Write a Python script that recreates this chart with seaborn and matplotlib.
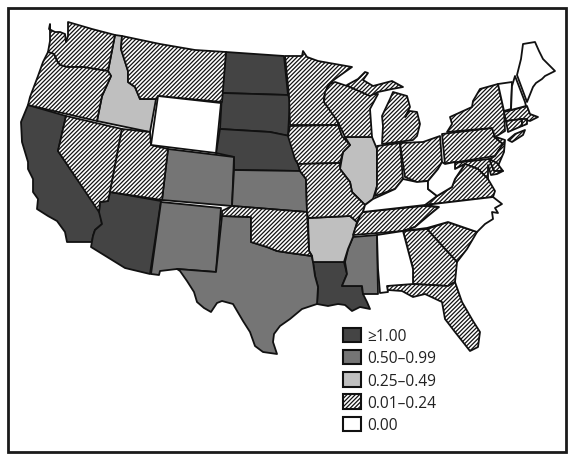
import matplotlib.pyplot as plt
from matplotlib.patches import Patch, Polygon, Rectangle
import seaborn as sns

WA = [(50,25),(49,30),(55,33),(60,33),(65,35),(66,43),(68,37),(68,30),(68,23),(92,30),(115,36),(108,72),(95,70),(83,68),(67,68),(60,66),(57,62),(54,55),(48,53),(50,42)]
OR = [(48,53),(54,55),(57,62),(60,66),(67,68),(83,68),(95,70),(108,72),(111,77),(102,97),(97,122),(28,106),(30,98),(38,77),(43,63)]
CA = [(28,106),(66,117),(58,152),(100,213),(102,225),(95,231),(93,237),(92,243),(67,243),(65,233),(57,222),(48,217),(37,210),(38,200),(33,193),(33,180),(28,170),(28,163),(22,143),(21,123)]
NV = [(66,117),(122,130),(110,193),(108,202),(100,203),(99,213),(58,152)]
ID = [(115,36),(122,37),(121,50),(128,72),(128,83),(135,88),(140,100),(156,100),(150,133),(97,122),(102,97),(111,77),(108,72)]
MT = [(122,37),(160,45),(195,51),(226,53),(222,103),(158,97),(156,100),(140,100),(135,88),(128,83),(128,72),(121,50)]
WY = [(158,97),(221,104),(216,154),(151,146)]
UT = [(122,130),(150,133),(151,146),(168,150),(162,201),(110,193)]
CO = [(168,150),(234,158),(232,207),(162,201)]
AZ = [(110,193),(161,202),(150,275),(125,269),(91,248),(93,237),(95,231),(102,225),(99,213),(100,203),(108,202)]
NM = [(161,203),(221,209),(216,273),(177,270),(160,272),(159,276),(151,275)]
TX = [(222,217),(251,218),(251,243),(267,248),(277,252),(290,254),(312,257),(313,263),(315,277),(318,288),(317,305),(302,310),(290,320),(280,327),(274,335),(273,343),(277,355),(263,353),(255,347),(250,333),(243,322),(233,305),(222,302),(217,304),(211,313),(204,309),(197,303),(194,293),(187,282),(180,272),(177,270),(216,273)]
OK = [(222,212),(232,207),(307,213),(309,252),(312,257),(290,254),(277,252),(267,248),(251,243),(251,218),(222,217)]
KS = [(234,171),(300,172),(306,180),(307,213),(232,207)]
NE = [(220,130),(270,133),(290,137),(295,160),(298,165),(300,172),(234,171),(234,158),(216,154)]
SD = [(222,94),(288,96),(290,100),(288,137),(270,133),(220,130)]
ND = [(226,53),(284,57),(288,96),(222,94)]
MN = [(285,57),(302,57),(303,52),(307,58),(318,62),(335,65),(352,68),(335,80),(328,86),(324,98),(324,103),(338,120),(338,126),(290,126),(289,97)]
WI = [(330,85),(335,83),(350,88),(367,95),(378,95),(370,110),(372,138),(345,138),(338,123),(324,103),(325,93)]
MI_UPPER = [(347,86),(358,80),(365,73),(368,74),(363,81),(373,87),(392,82),(403,88),(392,90),(378,93),(370,97),(350,88)]
MI_LOWER = [(393,93),(407,97),(410,108),(405,118),(410,112),(417,113),(420,125),(417,137),(413,141),(382,145),(383,127),(382,117),(390,100)]
IA = [(290,127),(338,126),(342,137),(350,146),(343,153),(340,164),(298,165),(295,160),(288,137)]
IL = [(345,138),(372,138),(377,150),(377,187),(373,200),(365,206),(352,193),(350,183),(340,170),(343,153),(350,146)]
IN = [(377,147),(400,144),(403,180),(395,190),(375,197),(377,187)]
OH = [(400,144),(423,143),(440,137),(442,163),(438,170),(428,182),(417,183),(405,178)]
PA = [(442,135),(492,129),(495,138),(503,145),(495,157),(445,165)]
NY = [(447,133),(452,125),(450,118),(472,108),(473,102),(480,90),(498,85),(504,112),(505,132),(495,138),(492,129)]
LI = [(508,141),(515,135),(525,131),(523,136),(512,143)]
VT = [(498,85),(512,83),(511,110),(504,112)]
NH = [(515,77),(525,103),(526,107),(511,111),(512,87)]
ME = [(517,76),(521,60),(523,45),(535,43),(539,52),(543,60),(555,72),(545,77),(542,80),(536,84),(533,88),(527,103)]
MA = [(504,113),(527,107),(530,115),(538,118),(530,122),(522,120),(506,122)]
CT = [(506,122),(522,120),(522,127),(508,133)]
RI = [(522,120),(527,120),(527,125),(522,127)]
NJ = [(493,137),(505,141),(504,153),(498,167),(490,160),(495,157),(503,145)]
DE = [(489,160),(494,172),(503,172),(497,164)]
MD = [(445,165),(489,160),(494,172),(503,172),(497,175),(491,176),(488,166),(488,180),(478,170),(465,165),(455,170),(455,163)]
WV = [(442,163),(445,165),(455,163),(455,170),(465,165),(455,180),(452,188),(437,197),(428,190),(428,182),(438,170)]
VA = [(425,206),(433,198),(437,197),(452,188),(455,180),(465,165),(478,170),(488,180),(495,192),(493,198)]
KY = [(363,213),(365,206),(373,200),(395,190),(403,180),(417,183),(428,182),(428,190),(437,197),(425,206)]
TN = [(360,217),(363,213),(423,207),(439,208),(428,217),(415,228),(403,232),(353,236),(355,230)]
NC = [(425,206),(493,198),(502,205),(495,209),(498,214),(492,213),(493,220),(485,225),(477,233),(448,223),(427,229),(403,232),(415,228),(428,217),(439,208)]
SC = [(427,230),(448,223),(477,233),(467,250),(457,263),(445,250)]
GA = [(403,232),(427,230),(445,250),(457,263),(455,283),(448,287),(413,285),(413,270)]
AL = [(377,236),(403,232),(413,270),(413,285),(387,287),(388,293),(380,294),(378,270)]
FL = [(385,286),(413,285),(448,287),(455,283),(462,303),(473,322),(480,333),(478,348),(470,352),(455,333),(445,320),(442,303),(425,295),(413,298),(402,292),(388,291)]
MS = [(353,238),(377,236),(378,295),(363,295),(362,287),(342,287),(347,275),(345,263),(348,250)]
LA = [(313,263),(344,263),(347,275),(342,287),(362,287),(363,295),(367,303),(370,310),(360,308),(352,312),(345,306),(338,305),(328,307),(317,305),(318,288),(315,277)]
AR = [(308,219),(350,217),(357,223),(353,238),(348,250),(344,263),(313,263),(312,257),(309,252)]
MO = [(298,165),(340,164),(340,170),(350,183),(352,193),(365,206),(363,213),(360,217),(357,223),(350,217),(308,219),(307,213),(306,180),(300,172)]

# rate class of every state
labels = ["≥1.00", "0.50–0.99", "0.25–0.49", "0.01–0.24", "0.00"]
states_high = [CA, AZ, ND, SD, NE, LA]
states_mid = [CO, NM, TX, KS, MS]
states_low = [ID, IL, AR]
states_hatch = [WA, OR, NV, UT, MT, OK, MN, WI, MI_UPPER, MI_LOWER, IA, MO, IN, OH, PA, NY, LI,
                MA, CT, RI, NJ, DE, MD, VA, TN, SC, GA, FL]
states_zero = [WY, KY, WV, NC, AL, VT, NH, ME]
classes = [states_high, states_mid, states_low, states_hatch, states_zero]
fills = sns.color_palette(["#444444", "#757575", "#bfbfbf", "#ffffff", "#ffffff"])
hatches = [None, None, None, "////////", None]

sns.set_theme(style="white")
plt.rcParams["font.family"] = ["Open Sans", "DejaVu Sans"]
plt.rcParams["hatch.linewidth"] = 0.9
plt.rcParams["hatch.color"] = "#444444"

fig, ax = plt.subplots(figsize=(5.75, 4.6), dpi=100)
ax.set_position([0, 0, 1, 1])
ax.set_xlim(0, 575)
ax.set_ylim(460, 0)
ax.axis("off")

ax.add_patch(Rectangle((8, 9), 558, 444, fill=False, ec="#1a1a1a", lw=2))

for group, fill, hatch in zip(classes, fills, hatches):
    for outline in group:
        ax.add_patch(Polygon(outline, closed=True, fc=fill, hatch=hatch,
                             ec="#111111", lw=1.3, joinstyle="round"))

handles = [Patch(fc=f, hatch=h, ec="#111111", lw=1.5) for f, h in zip(fills, hatches)]
ax.legend(handles, labels, loc="upper left", bbox_to_anchor=(343, 328.5),
          bbox_transform=ax.transData, frameon=False, fontsize=11.2, borderpad=0,
          borderaxespad=0, handlelength=1.15, handleheight=1.08, handletextpad=0.4,
          labelspacing=0.36, labelcolor="#222222")

fig.savefig("out.png", dpi=100)
